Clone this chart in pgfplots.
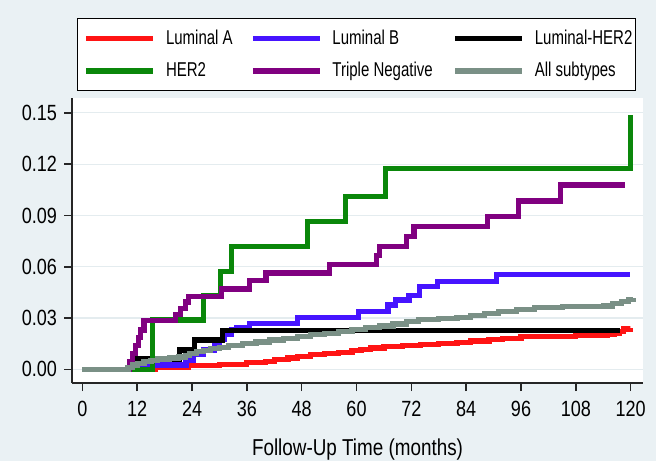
\documentclass[border=0pt]{standalone}
\usepackage{fontspec}
\setmainfont{Liberation Sans}[FakeStretch=0.82]
\newfontfamily\legfont{Liberation Sans}[FakeStretch=0.75]
\usepackage{pgfplots}
\pgfplotsset{compat=1.18}
\definecolor{bgc}{RGB}{234,241,244}
\definecolor{gridc}{RGB}{228,236,239}
\definecolor{cLA}{RGB}{255,20,20}
\definecolor{cLB}{RGB}{70,20,255}
\definecolor{cLH}{RGB}{0,0,0}
\definecolor{cH}{RGB}{10,135,10}
\definecolor{cTN}{RGB}{128,0,128}
\definecolor{cAll}{RGB}{122,144,134}
\begin{document}
\begin{tikzpicture}
\fill[bgc] (0pt,0pt) rectangle (328pt,230.5pt);
\begin{axis}[
  at={(36pt,39pt)}, anchor=south west,
  scale only axis, width=285.5pt, height=142.5pt,
  xmin=-2.27, xmax=122.7, ymin=-0.008, ymax=0.1587,
  axis lines*=left,
  axis line style={line width=0.8pt, black!85},
  axis background/.style={fill=white},
  tick align=outside, major tick length=4pt,
  tick style={line width=0.8pt, black!85},
  xtick={0,12,24,36,48,60,72,84,96,108,120},
  ytick={0,0.03,0.06,0.09,0.12,0.15},
  /pgf/number format/assume math mode=true,
  yticklabel style={/pgf/number format/.cd, fixed, fixed zerofill, precision=2},
  ticklabel style={font=\fontsize{11}{13}\selectfont},
  xticklabel style={yshift=-1.5pt},
  ymajorgrids, grid style={gridc, line width=0.6pt},
  xlabel={Follow-Up Time (months)},
  xlabel style={font=\fontsize{11.5}{13}\selectfont, at={(0.5,-0.232)}, anchor=center},
  every axis plot/.append style={const plot, line width=2.6pt, mark=none},
  legend columns=3,
  legend image code/.code={\draw[#1,line width=2.8pt] (0pt,0pt) -- (33.5pt,0pt); \path (38.5pt,0pt);},
  legend style={at={(0.0088,1.2807)}, anchor=north west, draw=black, line width=0.6pt, fill=white,
    font=\legfont\fontsize{10}{12}\selectfont,
    inner xsep=3pt, inner ysep=5.2pt, row sep=6.6pt,
    cells={anchor=west},
    nodes={inner sep=0pt, text height=7.5pt, text depth=2pt}},
]
% Luminal A
\addplot[cLA] coordinates {(0,0)(16.0,0.0012)(23.3,0.0022)(30,0.003)(36,0.0038)(40,0.0048)(42,0.0056)(45,0.0066)(47,0.0075)(50,0.0085)(53,0.0094)(56,0.0100)(59,0.0108)(61,0.0117)(63,0.0125)(66,0.0132)(70,0.0140)(74,0.0146)(78,0.0150)(82,0.0158)(85,0.0166)(89,0.0175)(92,0.0182)(96,0.0190)(100,0.0194)(108,0.0198)(115,0.0203)(116.5,0.0212)(117.5,0.0222)(118.5,0.0236)(120,0.0244)};
\addlegendentry{\makebox[42pt][l]{Luminal A}}
% Luminal B
\addplot[cLB] coordinates {(0,0)(12.5,0.0025)(22.7,0.0054)(24.3,0.0085)(26.5,0.0113)(29.0,0.0142)(30.0,0.0175)(31.0,0.0205)(32.6,0.0232)(33.8,0.0246)(36.6,0.0269)(47.0,0.0305)(60.4,0.0337)(66.9,0.0376)(68.6,0.0405)(71.5,0.0434)(73.7,0.0483)(77.8,0.0512)(90.7,0.0556)(119.9,0.0556)};
\addlegendentry{\makebox[60pt][l]{Luminal B}}
% Luminal-HER2
\addplot[cLH] coordinates {(0,0)(11.8,0.006)(21.3,0.0113)(24.5,0.0171)(30.7,0.0226)(117.7,0.0226)};
\addlegendentry{\makebox[47.5pt][l]{Luminal-HER2}}
% HER2
\addplot[cH] coordinates {(0,0)(15.3,0.0288)(26.5,0.0434)(30.3,0.057)(32.6,0.0717)(49.2,0.0867)(57.5,0.101)(66.4,0.1175)(119.9,0.1487)};
\addlegendentry{\makebox[42pt][l]{HER2}}
% Triple Negative
\addplot[cTN] coordinates {(0,0)(10.3,0.0046)(11.0,0.0092)(11.6,0.0138)(12.2,0.0184)(12.8,0.023)(13.5,0.0285)(20.3,0.0322)(21.4,0.0358)(22.6,0.0394)(23.2,0.0428)(30.4,0.047)(36.6,0.052)(40.2,0.0563)(54.0,0.0612)(64.4,0.0668)(65.0,0.0718)(71.0,0.0775)(72.6,0.0834)(88.7,0.0896)(95.5,0.0984)(104.6,0.1078)(118.8,0.1078)};
\addlegendentry{\makebox[60pt][l]{Triple Negative}}
% All subtypes
\addplot[cAll] coordinates {(0,0)(10,0.0012)(11,0.0025)(12,0.0035)(13.5,0.0045)(15,0.0052)(16.5,0.006)(19,0.0066)(21,0.0072)(22.5,0.0082)(23.5,0.0092)(25,0.0102)(26.5,0.0112)(28,0.012)(30,0.013)(32,0.014)(35,0.015)(38,0.016)(41,0.0171)(44,0.018)(47,0.0192)(50,0.0202)(53,0.021)(56,0.022)(59,0.0232)(62,0.0243)(65,0.0254)(68,0.0265)(71,0.0278)(73.5,0.0293)(78,0.0298)(82,0.0305)(85,0.0315)(88,0.0325)(91,0.0337)(95,0.0352)(99,0.036)(105,0.0366)(114,0.037)(116,0.0385)(118,0.0398)(119.5,0.041)(120.5,0.042)};
\addlegendentry{\makebox[47.5pt][l]{All subtypes}}
\end{axis}
\end{tikzpicture}
\end{document}
